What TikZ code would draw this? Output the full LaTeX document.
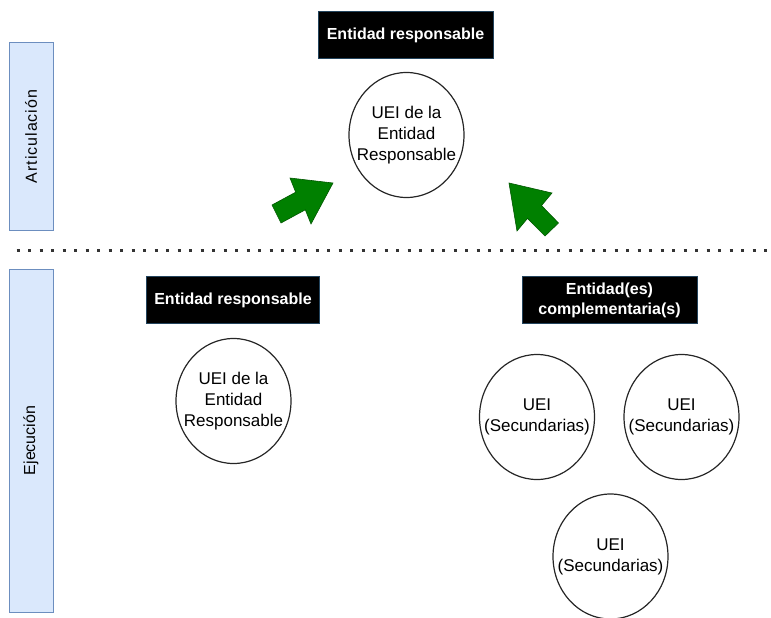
\documentclass[tikz,border=0pt]{standalone}
\usepackage{fontspec}
\setmainfont{Liberation Sans}
\definecolor{lanefill}{HTML}{DAE8FC}
\definecolor{lanedraw}{HTML}{6C8EBF}
\definecolor{tagdraw}{HTML}{23445D}
\definecolor{arrgreen}{HTML}{008000}
\definecolor{arrdraw}{HTML}{005700}
\definecolor{dotcol}{HTML}{333333}
\tikzset{
  lane/.style={draw=lanedraw, fill=lanefill, line width=1pt, inner sep=0pt},
  lanetext/.style={font=\fontsize{16}{20}\selectfont, rotate=90, inner sep=0pt},
  tag/.style={draw=tagdraw, fill=black, text=white, line width=1pt, inner sep=0pt,
    font=\fontsize{16}{20}\selectfont\bfseries, align=center,
    minimum height=47pt},
  uei/.style={inner sep=0pt, font=\fontsize{17}{21}\selectfont, align=center,
    append after command={\pgfextra{\draw[ring] (\tikzlastnode.center) ellipse [x radius=57.5pt, y radius=62.5pt];}}},
  ring/.style={draw=black!85, line width=1.2pt},
  greenarrow/.style={fill=arrgreen, draw=arrdraw, line width=0.6pt, line join=miter},
  sep/.style={dotcol, line width=3pt, dash pattern=on 3pt off 8.5pt}
}
\begin{document}
\begin{tikzpicture}[x=1pt, y=-1pt]
\useasboundingbox (0,0) rectangle (771,618);
% lanes
\draw[lane] (9,43) rectangle (53,230);
\node[lanetext] (lart) at (31,136.5) {\addfontfeatures{LetterSpace=6}Articulación};
\draw[lane] (9,269) rectangle (53,612);
\node[lanetext] (leje) at (31,440.5) {Ejecución};
% separator
\coordinate (sepL) at (16.5,250);
\coordinate (sepR) at (771,250);
\draw[sep] (sepL) -- (sepR);
% tags
\node[tag, minimum width=175pt] (tagtop) at (405.5,35.5) {Entidad responsable};
\node[tag, minimum width=173pt] (tagleft) at (233,300) {Entidad responsable};
\node[tag, minimum width=175pt] (tagright) at (609.5,300) {Entidad(es)\\complementaria(s)};
% circles
\node[uei] (ctop) at (406.5,135) {UEI de la\\Entidad\\Responsable};
\node[uei] (cleft) at (233.5,401) {UEI de la\\Entidad\\Responsable};
\node[uei] (cs1) at (537,417) {UEI\\(Secundarias)};
\node[uei] (cs2) at (681.5,417) {UEI\\(Secundarias)};
\node[uei] (cs3) at (610.5,556.5) {UEI\\(Secundarias)};
% green arrows
\fill[greenarrow] (272,205) -- (295.7,192.2) -- (290,178) -- (333,183) -- (311,224) -- (305.3,209.8) -- (281,223) -- cycle;
\fill[greenarrow] (509,183) -- (552,193) -- (541.5,205.6) -- (558.5,223) -- (545,236) -- (527.5,218.4) -- (517,231) -- cycle;
\end{tikzpicture}
\end{document}
